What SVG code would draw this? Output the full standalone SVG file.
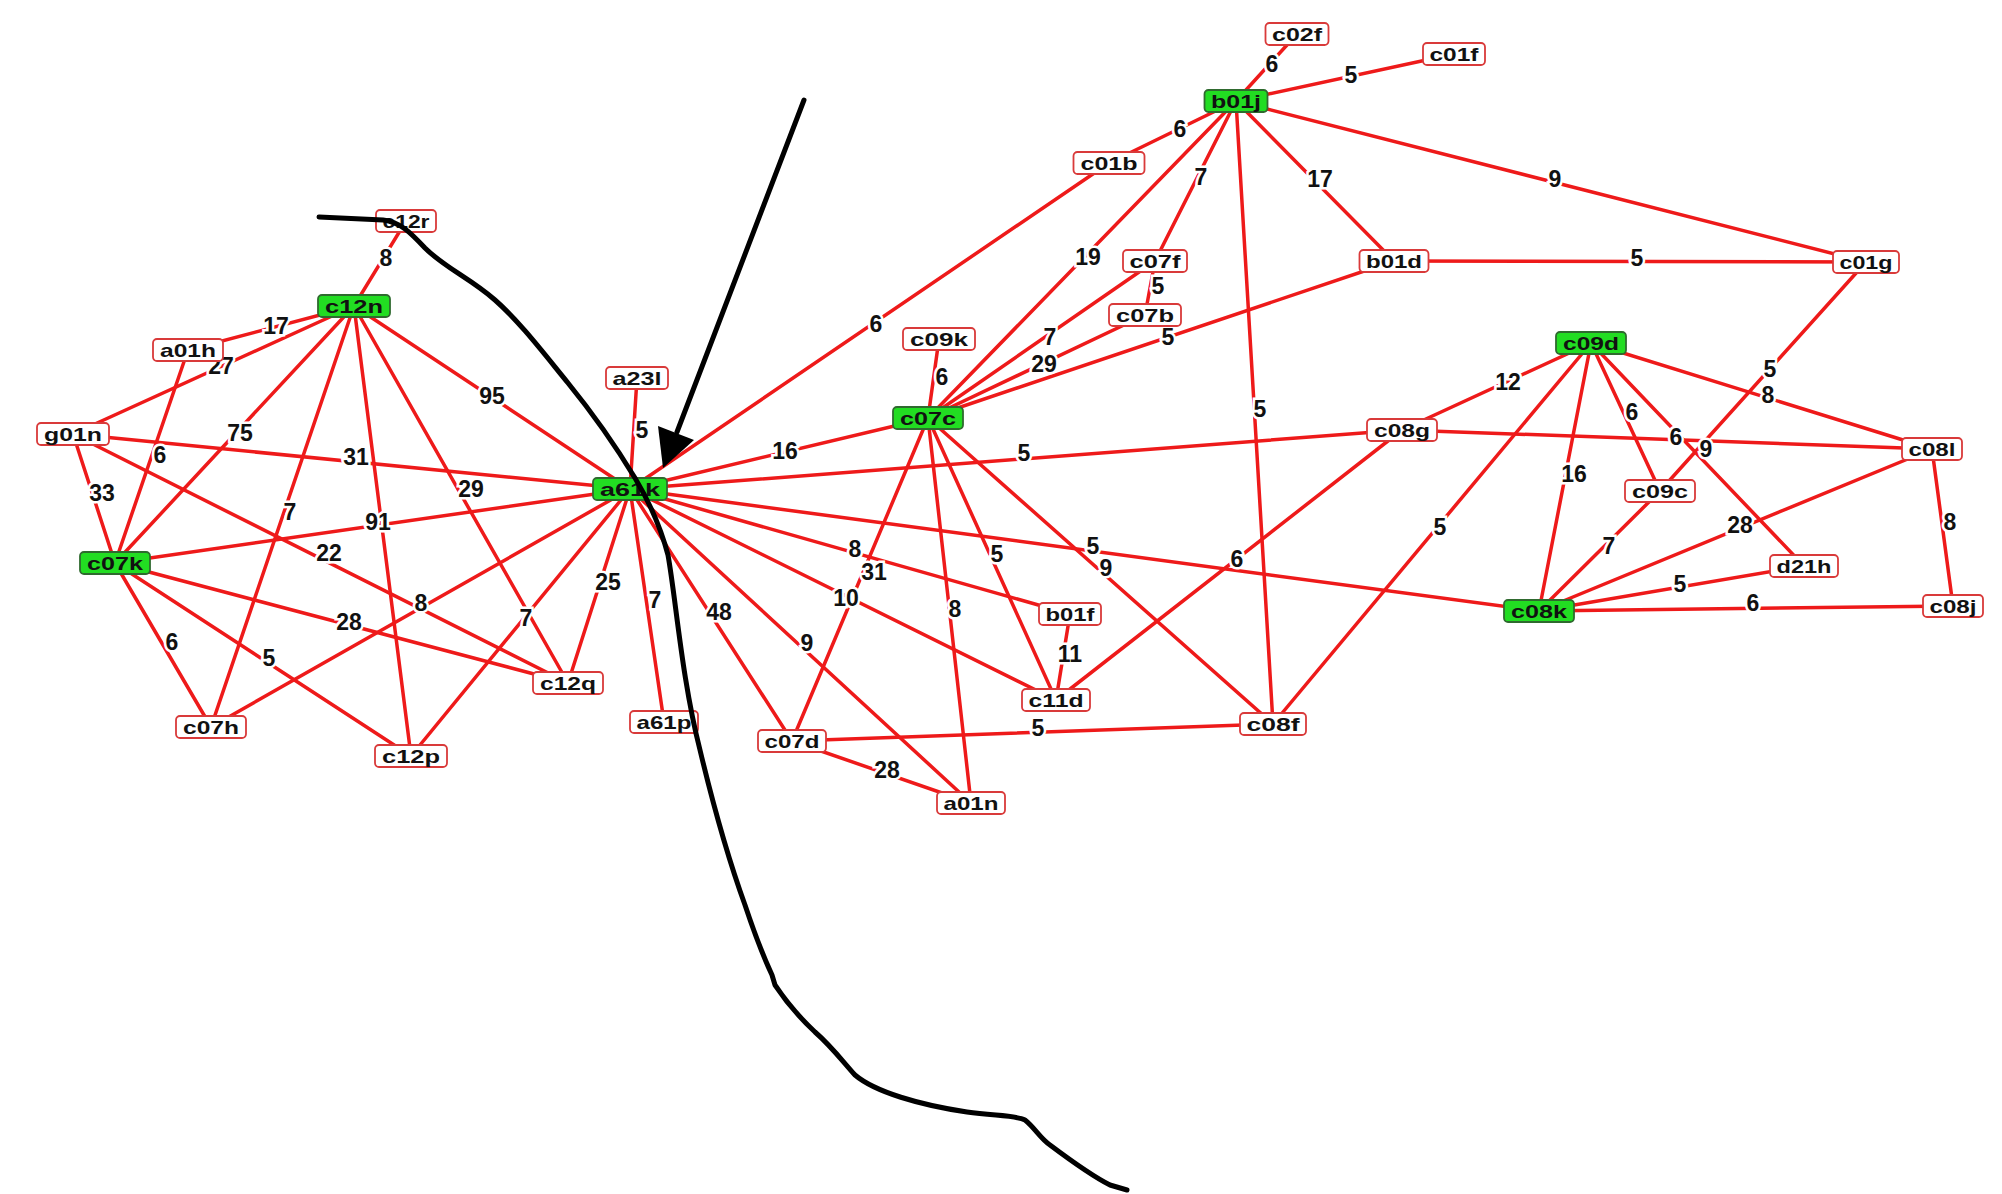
<svg xmlns="http://www.w3.org/2000/svg" width="2002" height="1194" viewBox="0 0 2002 1194">
<style>
.e line{stroke:#ee1a1a;stroke-width:3.5;stroke-linecap:round}
.n rect{fill:#fff;stroke:#d93a3a;stroke-width:1.8}
.g rect{fill:#22dd22;stroke:#2f6a2f;stroke-width:1.8}
.n text{font-family:"Liberation Sans",Arial,sans-serif;font-weight:bold;font-size:19px;fill:#111;text-anchor:middle}
.l{font-family:"Liberation Sans",Arial,sans-serif;font-weight:bold;font-size:23px;fill:#111;stroke:#fff;stroke-width:5;paint-order:stroke;text-anchor:middle;dominant-baseline:central}
.ink{stroke:#000;stroke-width:5;fill:none;stroke-linecap:round;stroke-linejoin:round}
</style>
<rect width="2002" height="1194" fill="#fff"/>
<g id="connectors" class="e">
<line x1="354" y1="306" x2="406" y2="221"/>
<line x1="354" y1="306" x2="188" y2="350"/>
<line x1="354" y1="306" x2="73" y2="434"/>
<line x1="354" y1="306" x2="115" y2="563"/>
<line x1="354" y1="306" x2="211" y2="727"/>
<line x1="354" y1="306" x2="411" y2="756"/>
<line x1="354" y1="306" x2="630" y2="489"/>
<line x1="354" y1="306" x2="568" y2="683"/>
<line x1="73" y1="434" x2="115" y2="563"/>
<line x1="73" y1="434" x2="630" y2="489"/>
<line x1="73" y1="434" x2="568" y2="683"/>
<line x1="188" y1="350" x2="115" y2="563"/>
<line x1="115" y1="563" x2="630" y2="489"/>
<line x1="115" y1="563" x2="568" y2="683"/>
<line x1="115" y1="563" x2="211" y2="727"/>
<line x1="115" y1="563" x2="411" y2="756"/>
<line x1="211" y1="727" x2="630" y2="489"/>
<line x1="411" y1="756" x2="630" y2="489"/>
<line x1="568" y1="683" x2="630" y2="489"/>
<line x1="637" y1="378" x2="630" y2="489"/>
<line x1="630" y1="489" x2="664" y2="722"/>
<line x1="630" y1="489" x2="792" y2="741"/>
<line x1="630" y1="489" x2="971" y2="803"/>
<line x1="630" y1="489" x2="1056" y2="700"/>
<line x1="630" y1="489" x2="1070" y2="614"/>
<line x1="630" y1="489" x2="1539" y2="611"/>
<line x1="630" y1="489" x2="928" y2="418"/>
<line x1="630" y1="489" x2="1402" y2="430"/>
<line x1="630" y1="489" x2="1109" y2="163"/>
<line x1="928" y1="418" x2="939" y2="339"/>
<line x1="928" y1="418" x2="1155" y2="261"/>
<line x1="928" y1="418" x2="1145" y2="315"/>
<line x1="928" y1="418" x2="1394" y2="261"/>
<line x1="928" y1="418" x2="1236" y2="101"/>
<line x1="928" y1="418" x2="971" y2="803"/>
<line x1="928" y1="418" x2="1056" y2="700"/>
<line x1="928" y1="418" x2="1273" y2="724"/>
<line x1="1155" y1="261" x2="1145" y2="315"/>
<line x1="1236" y1="101" x2="1297" y2="34"/>
<line x1="1236" y1="101" x2="1454" y2="54"/>
<line x1="1236" y1="101" x2="1109" y2="163"/>
<line x1="1236" y1="101" x2="1155" y2="261"/>
<line x1="1236" y1="101" x2="1394" y2="261"/>
<line x1="1236" y1="101" x2="1273" y2="724"/>
<line x1="1236" y1="101" x2="1866" y2="262"/>
<line x1="1394" y1="261" x2="1866" y2="262"/>
<line x1="1866" y1="262" x2="1660" y2="491"/>
<line x1="1591" y1="343" x2="1932" y2="449"/>
<line x1="1591" y1="343" x2="1402" y2="430"/>
<line x1="1591" y1="343" x2="1273" y2="724"/>
<line x1="1591" y1="343" x2="1539" y2="611"/>
<line x1="1591" y1="343" x2="1660" y2="491"/>
<line x1="1591" y1="343" x2="1804" y2="566"/>
<line x1="1402" y1="430" x2="1932" y2="449"/>
<line x1="1402" y1="430" x2="1056" y2="700"/>
<line x1="1932" y1="449" x2="1953" y2="606"/>
<line x1="1932" y1="449" x2="1539" y2="611"/>
<line x1="1804" y1="566" x2="1539" y2="611"/>
<line x1="1953" y1="606" x2="1539" y2="611"/>
<line x1="1660" y1="491" x2="1539" y2="611"/>
<line x1="1056" y1="700" x2="1070" y2="614"/>
<line x1="792" y1="741" x2="971" y2="803"/>
<line x1="792" y1="741" x2="1273" y2="724"/>
<line x1="792" y1="741" x2="928" y2="418"/>
</g>
<g id="edge-labels">
<text class="l" x="386" y="258">8</text>
<text class="l" x="276" y="326">17</text>
<text class="l" x="221" y="366">27</text>
<text class="l" x="240" y="433">75</text>
<text class="l" x="290" y="512">7</text>
<text class="l" x="378" y="522">91</text>
<text class="l" x="492" y="396">95</text>
<text class="l" x="471" y="489">29</text>
<text class="l" x="102" y="493">33</text>
<text class="l" x="356" y="457">31</text>
<text class="l" x="329" y="553">22</text>
<text class="l" x="160" y="455">6</text>
<text class="l" x="349" y="622">28</text>
<text class="l" x="172" y="642">6</text>
<text class="l" x="269" y="658">5</text>
<text class="l" x="421" y="603">8</text>
<text class="l" x="526" y="618">7</text>
<text class="l" x="608" y="582">25</text>
<text class="l" x="642" y="430">5</text>
<text class="l" x="655" y="600">7</text>
<text class="l" x="719" y="612">48</text>
<text class="l" x="807" y="643">9</text>
<text class="l" x="846" y="598">10</text>
<text class="l" x="855" y="549">8</text>
<text class="l" x="1093" y="546">5</text>
<text class="l" x="785" y="451">16</text>
<text class="l" x="1024" y="453">5</text>
<text class="l" x="876" y="324">6</text>
<text class="l" x="942" y="377">6</text>
<text class="l" x="1050" y="337">7</text>
<text class="l" x="1044" y="364">29</text>
<text class="l" x="1168" y="337">5</text>
<text class="l" x="1088" y="257">19</text>
<text class="l" x="874" y="572">31</text>
<text class="l" x="955" y="609">8</text>
<text class="l" x="997" y="554">5</text>
<text class="l" x="1106" y="568">9</text>
<text class="l" x="1158" y="286">5</text>
<text class="l" x="1272" y="64">6</text>
<text class="l" x="1351" y="75">5</text>
<text class="l" x="1180" y="129">6</text>
<text class="l" x="1201" y="177">7</text>
<text class="l" x="1320" y="179">17</text>
<text class="l" x="1260" y="409">5</text>
<text class="l" x="1555" y="179">9</text>
<text class="l" x="1637" y="258">5</text>
<text class="l" x="1770" y="369">5</text>
<text class="l" x="1768" y="395">8</text>
<text class="l" x="1508" y="382">12</text>
<text class="l" x="1440" y="527">5</text>
<text class="l" x="1574" y="474">16</text>
<text class="l" x="1632" y="412">6</text>
<text class="l" x="1676" y="437">6</text>
<text class="l" x="1706" y="449">9</text>
<text class="l" x="1237" y="559">6</text>
<text class="l" x="1950" y="522">8</text>
<text class="l" x="1740" y="525">28</text>
<text class="l" x="1680" y="584">5</text>
<text class="l" x="1753" y="603">6</text>
<text class="l" x="1609" y="546">7</text>
<text class="l" x="1070" y="654">11</text>
<text class="l" x="887" y="770">28</text>
<text class="l" x="1038" y="728">5</text>
</g>
<g id="nodes">
<g id="n-c02f" class="n" transform="translate(1297,34)"><rect x="-31.5" y="-11" width="63" height="22" rx="4"/><text y="7" textLength="50" lengthAdjust="spacingAndGlyphs">c02f</text></g>
<g id="n-c01f" class="n" transform="translate(1454,54)"><rect x="-31" y="-11" width="62" height="22" rx="4"/><text y="7" textLength="49" lengthAdjust="spacingAndGlyphs">c01f</text></g>
<g id="n-b01j" class="n g" transform="translate(1236,101)"><rect x="-31.5" y="-11" width="63" height="22" rx="4"/><text y="7" textLength="50" lengthAdjust="spacingAndGlyphs">b01j</text></g>
<g id="n-c01b" class="n" transform="translate(1109,163)"><rect x="-35.5" y="-11" width="71" height="22" rx="4"/><text y="7" textLength="57" lengthAdjust="spacingAndGlyphs">c01b</text></g>
<g id="n-c07f" class="n" transform="translate(1155,261)"><rect x="-32" y="-11" width="64" height="22" rx="4"/><text y="7" textLength="51" lengthAdjust="spacingAndGlyphs">c07f</text></g>
<g id="n-b01d" class="n" transform="translate(1394,261)"><rect x="-34.5" y="-11" width="69" height="22" rx="4"/><text y="7" textLength="56" lengthAdjust="spacingAndGlyphs">b01d</text></g>
<g id="n-c07b" class="n" transform="translate(1145,315)"><rect x="-36" y="-11" width="72" height="22" rx="4"/><text y="7" textLength="58" lengthAdjust="spacingAndGlyphs">c07b</text></g>
<g id="n-c09k" class="n" transform="translate(939,339)"><rect x="-36" y="-11" width="72" height="22" rx="4"/><text y="7" textLength="58" lengthAdjust="spacingAndGlyphs">c09k</text></g>
<g id="n-c07c" class="n g" transform="translate(928,418)"><rect x="-35" y="-11" width="70" height="22" rx="4"/><text y="7" textLength="56" lengthAdjust="spacingAndGlyphs">c07c</text></g>
<g id="n-c01g" class="n" transform="translate(1866,262)"><rect x="-33" y="-11" width="66" height="22" rx="4"/><text y="7" textLength="53" lengthAdjust="spacingAndGlyphs">c01g</text></g>
<g id="n-c09d" class="n g" transform="translate(1591,343)"><rect x="-35" y="-11" width="70" height="22" rx="4"/><text y="7" textLength="56" lengthAdjust="spacingAndGlyphs">c09d</text></g>
<g id="n-c08g" class="n" transform="translate(1402,430)"><rect x="-35" y="-11" width="70" height="22" rx="4"/><text y="7" textLength="56" lengthAdjust="spacingAndGlyphs">c08g</text></g>
<g id="n-c08l" class="n" transform="translate(1932,449)"><rect x="-30" y="-11" width="60" height="22" rx="4"/><text y="7" textLength="47" lengthAdjust="spacingAndGlyphs">c08l</text></g>
<g id="n-c09c" class="n" transform="translate(1660,491)"><rect x="-35" y="-11" width="70" height="22" rx="4"/><text y="7" textLength="56" lengthAdjust="spacingAndGlyphs">c09c</text></g>
<g id="n-d21h" class="n" transform="translate(1804,566)"><rect x="-34" y="-11" width="68" height="22" rx="4"/><text y="7" textLength="55" lengthAdjust="spacingAndGlyphs">d21h</text></g>
<g id="n-c08j" class="n" transform="translate(1953,606)"><rect x="-30" y="-11" width="60" height="22" rx="4"/><text y="7" textLength="47" lengthAdjust="spacingAndGlyphs">c08j</text></g>
<g id="n-c08k" class="n g" transform="translate(1539,611)"><rect x="-35" y="-11" width="70" height="22" rx="4"/><text y="7" textLength="56" lengthAdjust="spacingAndGlyphs">c08k</text></g>
<g id="n-c08f" class="n" transform="translate(1273,724)"><rect x="-33" y="-11" width="66" height="22" rx="4"/><text y="7" textLength="53" lengthAdjust="spacingAndGlyphs">c08f</text></g>
<g id="n-c11d" class="n" transform="translate(1056,700)"><rect x="-34" y="-11" width="68" height="22" rx="4"/><text y="7" textLength="55" lengthAdjust="spacingAndGlyphs">c11d</text></g>
<g id="n-b01f" class="n" transform="translate(1070,614)"><rect x="-31" y="-11" width="62" height="22" rx="4"/><text y="7" textLength="49" lengthAdjust="spacingAndGlyphs">b01f</text></g>
<g id="n-c07d" class="n" transform="translate(792,741)"><rect x="-34" y="-11" width="68" height="22" rx="4"/><text y="7" textLength="55" lengthAdjust="spacingAndGlyphs">c07d</text></g>
<g id="n-a01n" class="n" transform="translate(971,803)"><rect x="-34" y="-11" width="68" height="22" rx="4"/><text y="7" textLength="55" lengthAdjust="spacingAndGlyphs">a01n</text></g>
<g id="n-a61p" class="n" transform="translate(664,722)"><rect x="-34" y="-11" width="68" height="22" rx="4"/><text y="7" textLength="55" lengthAdjust="spacingAndGlyphs">a61p</text></g>
<g id="n-a61k" class="n g" transform="translate(630,489)"><rect x="-37" y="-11" width="74" height="22" rx="4"/><text y="7" textLength="60" lengthAdjust="spacingAndGlyphs">a61k</text></g>
<g id="n-a23l" class="n" transform="translate(637,378)"><rect x="-31" y="-11" width="62" height="22" rx="4"/><text y="7" textLength="49" lengthAdjust="spacingAndGlyphs">a23l</text></g>
<g id="n-c12r" class="n" transform="translate(406,221)"><rect x="-30" y="-11" width="60" height="22" rx="4"/><text y="7" textLength="47" lengthAdjust="spacingAndGlyphs">c12r</text></g>
<g id="n-c12n" class="n g" transform="translate(354,306)"><rect x="-36" y="-11" width="72" height="22" rx="4"/><text y="7" textLength="58" lengthAdjust="spacingAndGlyphs">c12n</text></g>
<g id="n-a01h" class="n" transform="translate(188,350)"><rect x="-35" y="-11" width="70" height="22" rx="4"/><text y="7" textLength="56" lengthAdjust="spacingAndGlyphs">a01h</text></g>
<g id="n-g01n" class="n" transform="translate(73,434)"><rect x="-36" y="-11" width="72" height="22" rx="4"/><text y="7" textLength="58" lengthAdjust="spacingAndGlyphs">g01n</text></g>
<g id="n-c07k" class="n g" transform="translate(115,563)"><rect x="-35" y="-11" width="70" height="22" rx="4"/><text y="7" textLength="56" lengthAdjust="spacingAndGlyphs">c07k</text></g>
<g id="n-c07h" class="n" transform="translate(211,727)"><rect x="-35" y="-11" width="70" height="22" rx="4"/><text y="7" textLength="56" lengthAdjust="spacingAndGlyphs">c07h</text></g>
<g id="n-c12p" class="n" transform="translate(411,756)"><rect x="-36" y="-11" width="72" height="22" rx="4"/><text y="7" textLength="58" lengthAdjust="spacingAndGlyphs">c12p</text></g>
<g id="n-c12q" class="n" transform="translate(568,683)"><rect x="-35" y="-11" width="70" height="22" rx="4"/><text y="7" textLength="56" lengthAdjust="spacingAndGlyphs">c12q</text></g>
</g>
<g id="annotations">
<path class="ink" d="M319,217 L383,220 C400,222 410,232 425,248 C445,268 470,278 495,300 C520,322 545,355 568,383 C590,410 615,445 635,478 C650,503 660,525 668,555 C676,600 682,680 700,750 C712,800 725,850 745,905 C755,935 765,960 772,975 L775,985 C785,1000 800,1018 815,1032 C830,1045 840,1058 855,1075 C875,1092 920,1105 967,1112 C995,1116 1015,1115 1025,1120 C1035,1128 1040,1138 1050,1145 C1070,1160 1090,1175 1110,1185 L1127,1190"/>
<line class="ink" x1="804" y1="100" x2="677" y2="432"/>
<polygon points="663,468 658,426 694,440" fill="#000"/>
</g>
</svg>
